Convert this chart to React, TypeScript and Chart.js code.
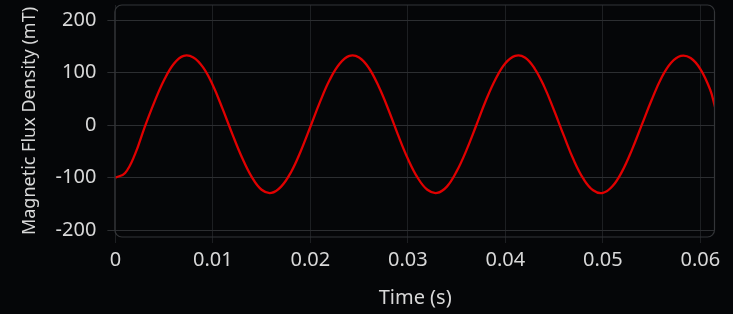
import React, { useEffect, useRef } from "react";
import { Chart, registerables } from "chart.js";

Chart.register(...registerables);

const times = [
  0, 0.001, 0.002, 0.003, 0.004, 0.005, 0.006, 0.007, 0.008, 0.009,
  0.010, 0.011, 0.012, 0.013, 0.014, 0.015, 0.016, 0.017, 0.018, 0.019,
  0.020, 0.021, 0.022, 0.023, 0.024, 0.025, 0.026, 0.027, 0.028, 0.029,
  0.030, 0.031, 0.032, 0.033, 0.034, 0.035, 0.036, 0.037, 0.038, 0.039,
  0.040, 0.041, 0.042, 0.043, 0.044, 0.045, 0.046, 0.047, 0.048, 0.049,
  0.050, 0.051, 0.052, 0.053, 0.054, 0.055, 0.056, 0.057, 0.058, 0.059,
  0.060, 0.061, 0.0615,
];

const fluxDensity = [
  -100, -91, -56, -4, 44, 86, 117, 132, 129, 110,
  76, 31, -17, -62, -99, -123, -129, -117, -90, -50,
  -3, 45, 87, 117, 132, 129, 109, 74, 30, -19,
  -64, -100, -123, -129, -117, -88, -48, -1, 47, 88,
  118, 132, 129, 108, 73, 28, -20, -66, -102, -124,
  -129, -116, -87, -46, 1, 48, 90, 119, 132, 128,
  107, 68, 35,
];

const xTickValues = [0, 0.01, 0.02, 0.03, 0.04, 0.05, 0.06];
const yTickValues = [-200, -100, 0, 100, 200];

const FONT = "'Noto Sans', 'DejaVu Sans', sans-serif";
const TEXT = "#d8d8d8";

const framePlugin = {
  id: "frame",
  afterDatasetsDraw(chart: any) {
    const { ctx, chartArea } = chart;
    ctx.save();
    ctx.strokeStyle = "#333538";
    ctx.lineWidth = 1.2;
    ctx.beginPath();
    const r = 7;
    const x = chartArea.left - 0.5;
    const y = chartArea.top;
    const w = chartArea.right - chartArea.left;
    const h = chartArea.bottom - chartArea.top;
    ctx.roundRect(x, y, w, h, r);
    ctx.stroke();
    ctx.restore();
  },
};

export default function App() {
  const ref = useRef<HTMLCanvasElement | null>(null);

  useEffect(() => {
    document.body.style.margin = "0";
    document.body.style.background = "#050608";
    if (!ref.current) return;
    const chart = new Chart(ref.current, {
      type: "line",
      data: {
        datasets: [
          {
            label: "Magnetic Flux Density",
            data: times.map((t, i) => ({ x: t, y: fluxDensity[i] })),
            borderColor: "#e00000",
            borderWidth: 2.3,
            pointRadius: 0,
            tension: 0.4,
            fill: false,
          },
        ],
      },
      options: {
        animation: false,
        responsive: false,
        maintainAspectRatio: false,
        layout: { padding: { top: 5, right: 18, left: 19, bottom: 4 } },
        plugins: {
          legend: { display: false },
          tooltip: { enabled: false },
        },
        scales: {
          x: {
            type: "linear",
            min: 0,
            max: 0.0615,
            afterBuildTicks: (scale: any) => {
              scale.ticks = xTickValues.map((v) => ({ value: v }));
            },
            afterFit: (scale: any) => {
              scale.paddingRight = 0;
              scale.paddingLeft = 0;
            },
            ticks: {
              color: TEXT,
              font: { family: FONT, size: 20 },
              padding: 5,
              maxRotation: 0,
              callback: (v: any) => String(Number(v.toFixed(3))),
            },
            grid: {
              color: "#1d1f22",
              lineWidth: 1,
              tickLength: 6,
              drawOnChartArea: true,
            },
            border: { display: false },
            title: {
              display: true,
              text: "Time (s)",
              color: TEXT,
              font: { family: FONT, size: 20 },
              padding: { top: 9, bottom: 0 },
            },
          },
          y: {
            type: "linear",
            min: -213,
            max: 229,
            afterBuildTicks: (scale: any) => {
              scale.ticks = yTickValues.map((v) => ({ value: v }));
            },
            afterFit: (scale: any) => {
              scale.paddingTop = 0;
              scale.paddingBottom = 0;
            },
            ticks: {
              color: TEXT,
              font: { family: FONT, size: 20 },
              padding: 11,
            },
            grid: {
              color: "#2c2e31",
              lineWidth: 1,
              tickLength: 8,
            },
            border: { display: false },
            title: {
              display: true,
              text: "Magnetic Flux Density (mT)",
              color: TEXT,
              font: { family: FONT, size: 18 },
              padding: { top: 0, bottom: 4 },
            },
          },
        },
      },
      plugins: [framePlugin],
    });
    return () => chart.destroy();
  }, []);

  return (
    <div style={{ width: 733, height: 314, background: "#050608" }}>
      <canvas ref={ref} width={733} height={314} style={{ display: "block" }} />
    </div>
  );
}
